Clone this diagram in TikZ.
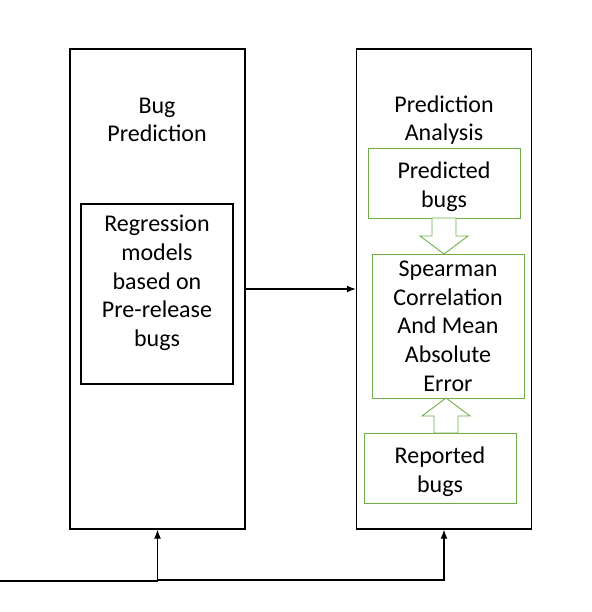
\documentclass[tikz,border=0pt]{standalone}
\usepackage{fontspec}
\setmainfont{Carlito}
\usetikzlibrary{arrows.meta}
\definecolor{bggreen}{RGB}{112,173,71}
\tikzset{>={Latex[length=9pt,width=7pt]},every node/.style={font=\fontsize{24}{28.7}\selectfont,align=center,inner sep=0pt},
panel/.style={draw,line width=1.3pt,minimum width=175pt,minimum height=480pt},
rbox/.style={draw,line width=1.3pt,minimum width=152pt,minimum height=180pt},
gbox/.style={draw=bggreen,line width=0.9pt,minimum width=152pt},
fat/.style={draw=bggreen,line width=0.9pt,fill=white,line join=miter},
flow/.style={line width=1.3pt,->}}
\begin{document}
\begin{tikzpicture}[x=1pt,y=-1pt]
\useasboundingbox (0,0) rectangle (591,612);
\node[panel] (BP) at (157.5,289) {};\node (BPt) at (157,120) {Bug\\Prediction};
\node[rbox] (RM) at (157,294) {};\node (RMt) at (157,283) {Regression\\models\\based on\\Pre-release\\bugs};
\node[panel] (PA) at (444,289) {};\node (PAt) at (444,120) {Prediction\\Analysis};
\node[gbox,minimum height=70pt] (PB) at (444,183) {};\node (PBt) at (444,187) {Predicted\\bugs};
\node[gbox,minimum height=144pt] (SC) at (448,326) {Spearman\\Correlation\\And Mean\\Absolute\\Error};
\node[gbox,minimum height=70pt] (RB) at (440,468) {};\node (RBt) at (440,472) {Reported\\bugs};
% block arrows
\draw[fat] (432,218)--(456,218)--(456,236)--(468,236)--(444,254)--(420,236)--(432,236)--cycle;
\draw[fat] (434,433)--(458,433)--(458,416)--(470,416)--(446,398)--(422,416)--(434,416)--cycle;
\draw[flow] (BP.east)--(PA.west);
% bottom feed
\coordinate (in) at (0,581);\coordinate (mid) at (285,580);
\draw[flow] (in) -| (BP.south);
\draw[line width=2.6pt] (BP.south |- mid)--(mid);
\draw[flow] (mid) -| (PA.south);
\end{tikzpicture}
\end{document}
